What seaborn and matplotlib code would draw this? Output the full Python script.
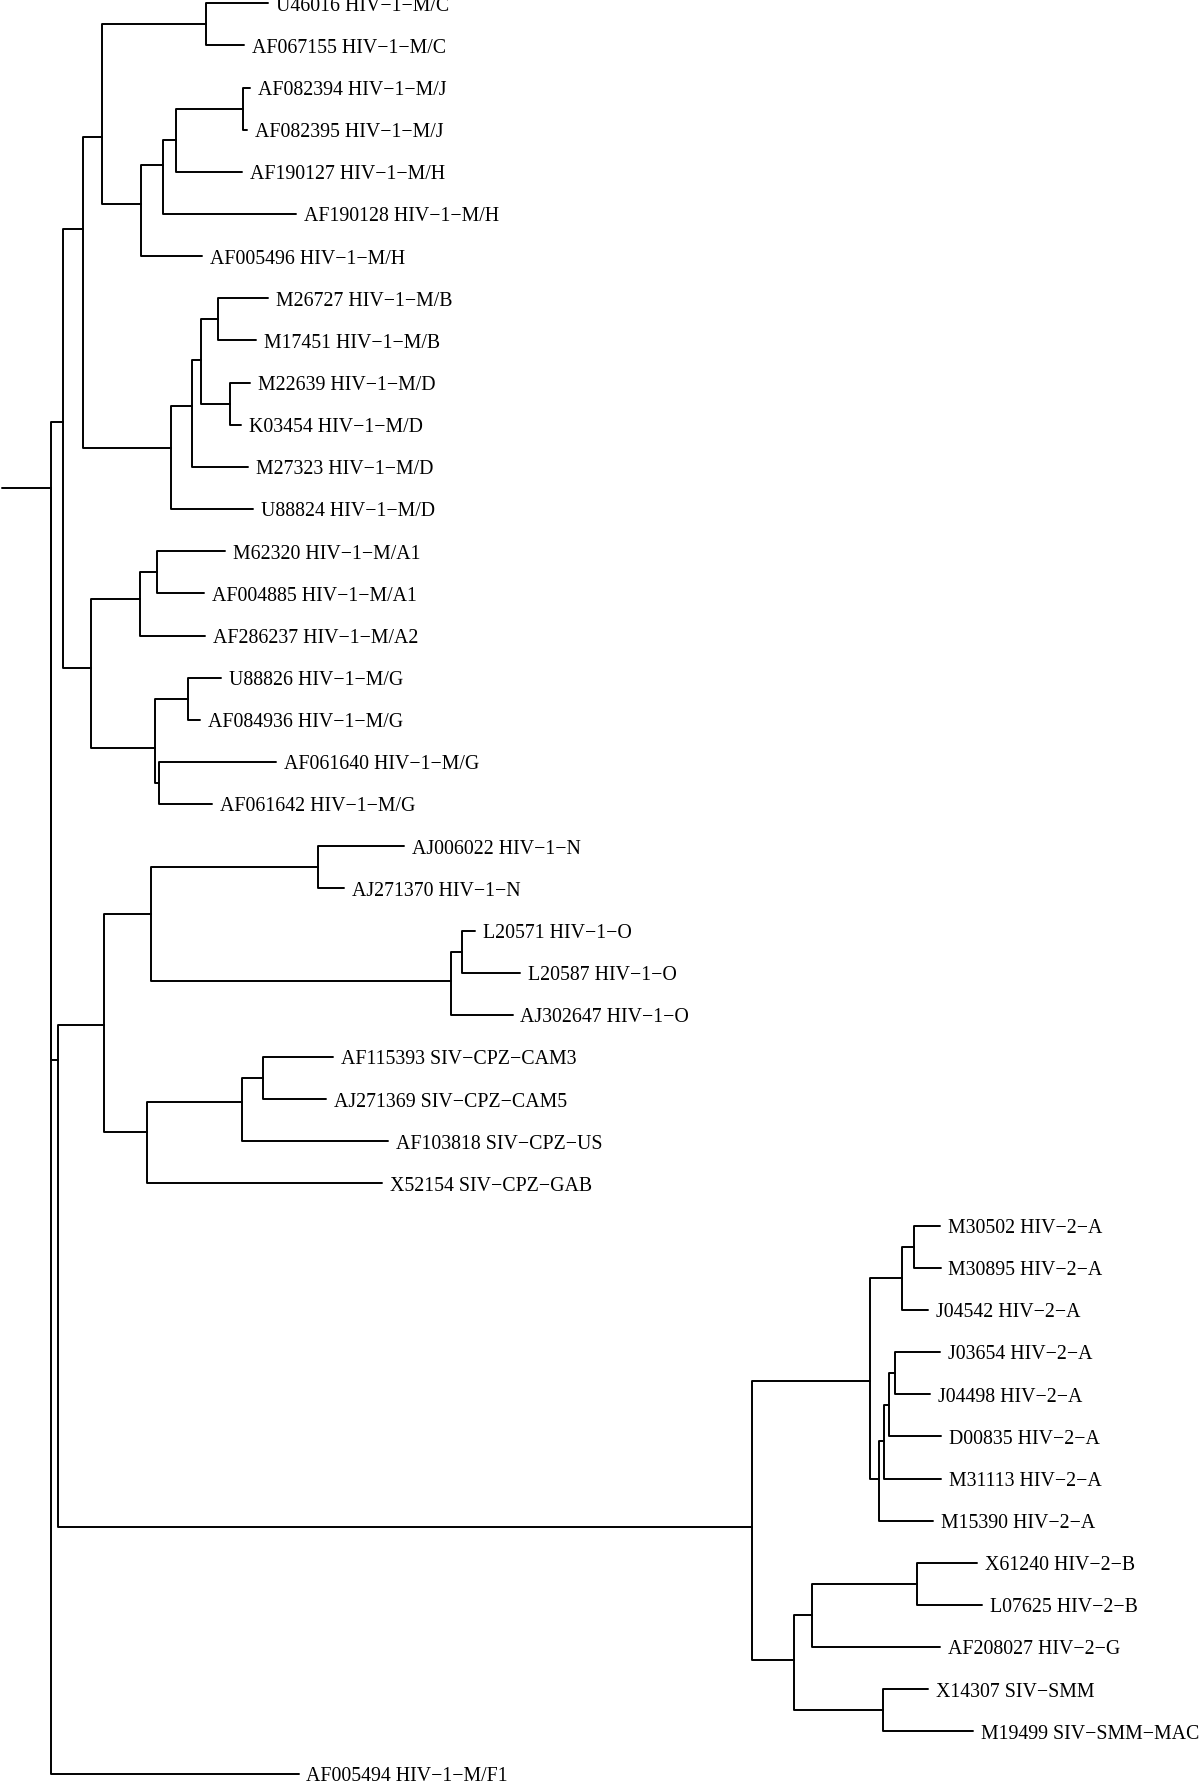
import pandas as pd
import matplotlib.pyplot as plt
import seaborn as sns

# tips, top to bottom
tip_labels = [
    "U46016 HIV-1-M/C", "AF067155 HIV-1-M/C", "AF082394 HIV-1-M/J", "AF082395 HIV-1-M/J",
    "AF190127 HIV-1-M/H", "AF190128 HIV-1-M/H", "AF005496 HIV-1-M/H", "M26727 HIV-1-M/B",
    "M17451 HIV-1-M/B", "M22639 HIV-1-M/D", "K03454 HIV-1-M/D", "M27323 HIV-1-M/D",
    "U88824 HIV-1-M/D", "M62320 HIV-1-M/A1", "AF004885 HIV-1-M/A1", "AF286237 HIV-1-M/A2",
    "U88826 HIV-1-M/G", "AF084936 HIV-1-M/G", "AF061640 HIV-1-M/G", "AF061642 HIV-1-M/G",
    "AJ006022 HIV-1-N", "AJ271370 HIV-1-N", "L20571 HIV-1-O", "L20587 HIV-1-O",
    "AJ302647 HIV-1-O", "AF115393 SIV-CPZ-CAM3", "AJ271369 SIV-CPZ-CAM5", "AF103818 SIV-CPZ-US",
    "X52154 SIV-CPZ-GAB", "M30502 HIV-2-A", "M30895 HIV-2-A", "J04542 HIV-2-A",
    "J03654 HIV-2-A", "J04498 HIV-2-A", "D00835 HIV-2-A", "M31113 HIV-2-A",
    "M15390 HIV-2-A", "X61240 HIV-2-B", "L07625 HIV-2-B", "AF208027 HIV-2-G",
    "X14307 SIV-SMM", "M19499 SIV-SMM-MAC", "AF005494 HIV-1-M/F1",
]
tip_parent = [
    "C", "C", "J", "J", "n9", "n8", "n7", "B", "B", "D", "D", "n11", "n10",
    "A1", "A1", "A", "G1", "G1", "G2", "G2", "grpN", "grpN", "O1", "O1", "O",
    "CAM", "CAM", "C1", "CPZ", "HA11", "HA11", "HA1", "HA23", "HA23", "HA22",
    "HA21", "HA2", "HB2", "HB2", "HB1", "SMM", "SMM", "root",
]
tip_depth = [
    267.9, 243.8, 249.5, 246.8, 242.0, 295.8, 201.5, 268.2, 256.0, 250.0, 241.0,
    248.0, 252.6, 225.0, 204.0, 204.7, 221.2, 199.8, 276.3, 212.4, 404.0, 343.7,
    475.4, 520.0, 512.5, 332.6, 325.9, 388.4, 381.7, 940.0, 940.5, 928.3, 940.0,
    930.0, 940.7, 941.0, 933.3, 977.0, 981.9, 939.8, 928.4, 973.1, 298.5,
]

# internal nodes
node_names = [
    "root", "n1", "n2", "n4", "n5", "n6", "C", "n7", "n8", "n9", "J", "n10", "n11",
    "n12", "B", "D", "A", "A1", "G", "G1", "G2", "n3", "NO", "grpN", "O", "O1",
    "CPZ", "C1", "CAM", "H", "HA", "HA1", "HA11", "HA2", "HA21", "HA22", "HA23",
    "HB", "HB1", "HB2", "SMM",
]
node_parent = [
    None, "root", "root", "n1", "n1", "n4", "n6", "n6", "n7", "n8", "n9", "n4", "n10",
    "n11", "n12", "n12", "n5", "A", "n5", "G", "G", "n2", "n3", "NO", "NO", "O",
    "n3", "CPZ", "C1", "n2", "H", "HA", "HA1", "HA", "HA2", "HA21", "HA22",
    "H", "HB", "HB1", "HB",
]
node_depth = [
    50.7, 63.3, 58.3, 82.7, 90.7, 101.5, 205.9, 140.7, 163.3, 175.7, 243.4, 170.5, 191.5,
    201.0, 217.7, 229.5, 140.3, 156.7, 155.0, 187.7, 159.3, 104.3, 150.9, 318.3, 450.9, 462.0,
    147.3, 241.5, 262.5, 751.5, 870.0, 901.7, 914.3, 878.7, 884.3, 889.3, 895.0,
    794.0, 812.4, 916.9, 883.2,
]
node_pos = [
    11.49, 9.94, 25.07, 5.35, 15.77, 3.18, 0.5, 4.75, 3.84, 3.25, 2.5, 10.56, 9.55,
    8.46, 7.5, 9.5, 14.13, 13.5, 17.67, 16.5, 18.5, 24.23, 21.61, 20.5, 23.20, 22.5,
    26.79, 26.07, 25.5, 36.16, 32.68, 30.25, 29.5, 35.01, 34.10, 33.26, 32.5,
    39.31, 38.24, 37.5, 40.5,
]
root_edge_start = 2.0

nx = dict(zip(node_names, node_depth))
ny = dict(zip(node_names, node_pos))

# elbow path for every edge: parent -> down/up to child row -> right to child
rows = []
seg = 0
children = [(n, p, nx[n], ny[n]) for n, p in zip(node_names, node_parent) if p is not None]
children += [(lab, p, d, i) for i, (lab, p, d) in enumerate(zip(tip_labels, tip_parent, tip_depth))]
for name, par, cx, cy in children:
    px, py = nx[par], ny[par]
    rows += [(seg, px, py), (seg, px, cy), (seg, cx, cy)]
    seg += 1
rows += [(seg, root_edge_start, ny["root"]), (seg, nx["root"], ny["root"])]
edges = pd.DataFrame(rows, columns=["seg", "x", "y"])

sns.set_style("white")
plt.rcParams["font.family"] = ["Liberation Serif", "DejaVu Serif"]

fig = plt.figure(figsize=(12, 17.83), dpi=100)
ax = fig.add_axes([0, 0, 1, 1])
sns.lineplot(data=edges, x="x", y="y", units="seg", estimator=None, sort=False,
             color="black", linewidth=1.4, legend=False, ax=ax)
for i, (lab, d) in enumerate(zip(tip_labels, tip_depth)):
    ax.text(d + 8, i + 0.15, lab.replace("-", "\u2212"), fontsize=14.3,
            ha="left", va="baseline", color="black")

ax.set_xlim(0, 1200)
ax.set_ylim(42.20, -0.102)
ax.axis("off")
fig.savefig("out.png", dpi=100)
